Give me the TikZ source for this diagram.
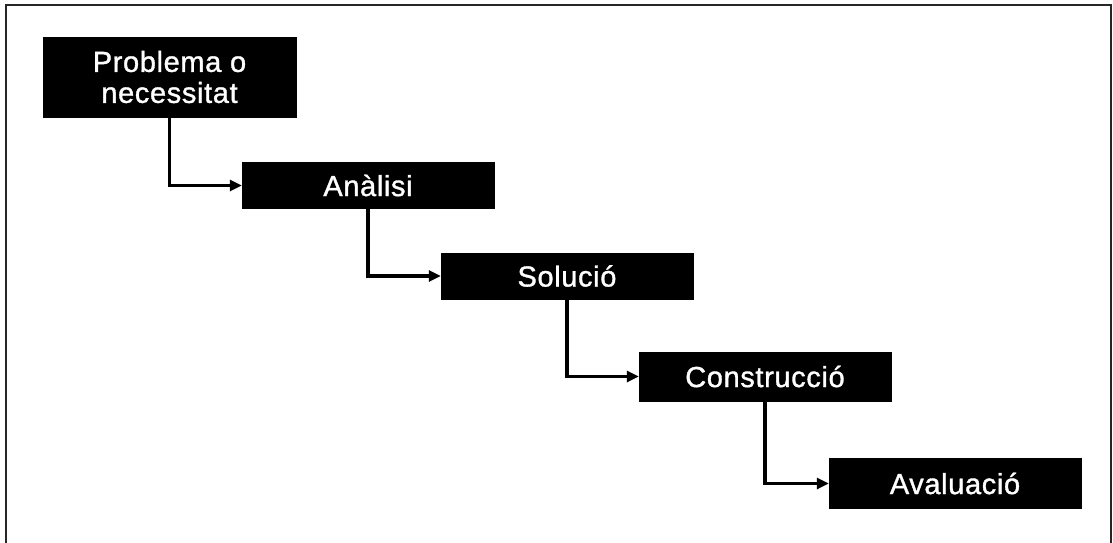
\documentclass[tikz,border=0pt]{standalone}
\usepackage{fontspec}
\setmainfont{Liberation Sans}
\newfontfamily\stepfont[LetterSpace=2.2,FakeBold=1.2]{Liberation Sans}
\usetikzlibrary{arrows.meta}
\begin{document}
\begin{tikzpicture}[x=1pt,y=-1pt,
  stagebox/.style={fill=black, draw=black, text=white, inner sep=0pt,
    minimum width=252pt, minimum height=46pt, align=center,
    font=\stepfont\fontsize{29}{31}\selectfont},
  flow/.style={line width=3.2pt, -{Triangle[length=12pt,width=11pt]}}]
  \useasboundingbox (0,0) rectangle (1113,543);
  % open frame: top, left and right sides
  \draw[line width=2pt, black!85] (6,545) -- (6,5) -- (1111,5) -- (1111,545);
  % stages
  \node[stagebox, minimum width=253pt, minimum height=80pt] (prob) at (169.5,77) {Problema o\\necessitat};
  \node[stagebox] (anal) at (368,185.5) {Anàlisi};
  \node[stagebox] (sol) at (567,276) {Solució};
  \node[stagebox, minimum height=49pt] (cons) at (765,376.5) {Construcció};
  \node[stagebox, minimum height=50pt] (aval) at (955,483.5) {Avaluació};
  % connectors
  \draw[flow] (prob.south) |- (anal.west);
  \draw[flow] (anal.south) |- (sol.west);
  \draw[flow] (sol.south) |- (cons.west);
  \draw[flow] (cons.south) |- (aval.west);
\end{tikzpicture}
\end{document}
